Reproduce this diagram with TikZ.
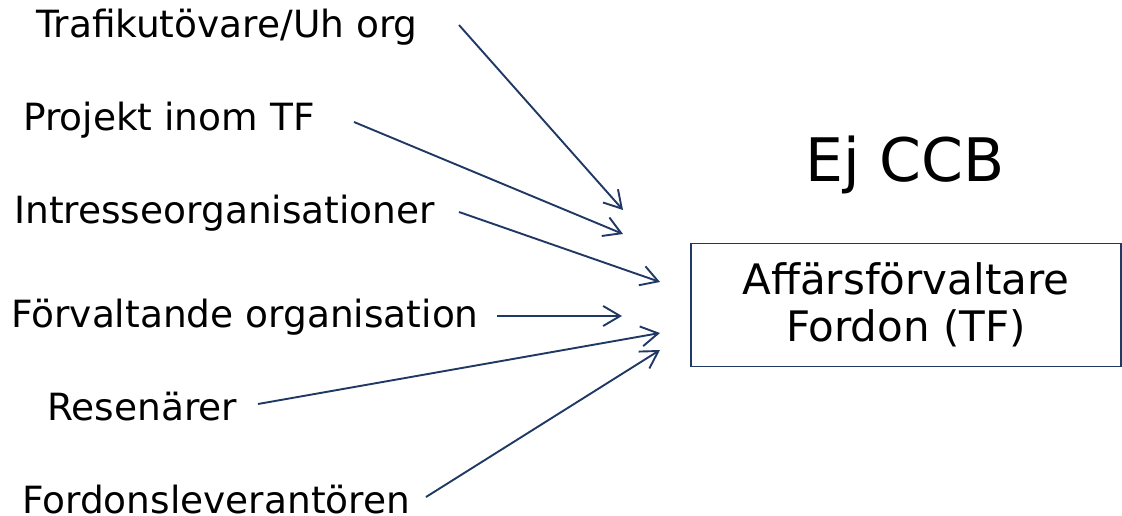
\documentclass[tikz,border=0pt]{standalone}
\usepackage{fontspec}
\setmainfont{DejaVu Sans}
\usetikzlibrary{arrows.meta}
\definecolor{navy}{HTML}{1F3864}
\begin{document}
\begin{tikzpicture}[x=1pt,y=-1pt,
  lbl/.style={font=\fontsize{37.5}{42}\selectfont, inner sep=0pt, anchor=west, text=black},
  conn/.style={draw=navy, line width=1.9pt, -{Straight Barb[length=17pt,width=20pt,line width=1.9pt]}},
  boxstyle/.style={draw=navy, line width=1.9pt, minimum width=430pt, minimum height=123pt, inner sep=0pt, align=center, font=\fontsize{42}{47}\selectfont}]
\useasboundingbox (0,0) rectangle (1122,516);
\node[lbl] (t1) at (36,27) {Trafikutövare/Uh org};
\node[lbl] (t2) at (23,120) {Projekt inom TF};
\node[lbl] (t3) at (14,213) {Intresseorganisationer};
\node[lbl] (t4) at (11,317) {Förvaltande organisation};
\node[lbl] (t5) at (47,407) {Resenärer};
\node[lbl] (t6) at (22,500) {Fordonsleverantören};
\node[font=\fontsize{60}{66}\selectfont, inner sep=0pt] (ccb) at (905,165) {Ej CCB};
\node[boxstyle] (box) at (906,305) {Affärsförvaltare\\Fordon (TF)};
\coordinate (s1) at (459,25);  \coordinate (e1) at (623,210);
\coordinate (s2) at (354,122); \coordinate (e2) at (623,234);
\coordinate (s3) at (459,212); \coordinate (e3) at (660,282);
\coordinate (s4) at (497,316); \coordinate (e4) at (622,316);
\coordinate (s5) at (258,404); \coordinate (e5) at (660,333);
\coordinate (s6) at (426,497); \coordinate (e6) at (660,350);
\foreach \i in {1,...,6} \draw[conn] (s\i) -- (e\i);
\end{tikzpicture}
\end{document}
